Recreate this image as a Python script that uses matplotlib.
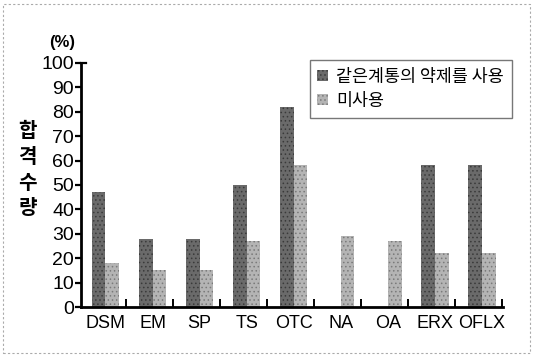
import numpy as np
import matplotlib
matplotlib.use('Agg')
import matplotlib.pyplot as plt
from matplotlib.patches import Rectangle, Patch

plt.rcParams['font.family'] = ['Liberation Sans', 'Noto Sans CJK KR', 'DejaVu Sans']
plt.rcParams['hatch.linewidth'] = 0.6

# data
categories = ['DSM', 'EM', 'SP', 'TS', 'OTC', 'NA', 'OA', 'ERX', 'OFLX']
same_class = [47, 28, 28, 50, 82, 0, 0, 58, 58]   # 같은계통의 약제를 사용
not_used = [18, 15, 15, 27, 58, 29, 27, 22, 22]    # 미사용
yticks = list(range(0, 101, 10))

fig = plt.figure(figsize=(5.33, 3.55), dpi=100)
ax = fig.add_axes([0.152, 0.135, 0.792, 0.688])

x = np.arange(len(categories))
w = 0.29
ax.bar(x - w / 2, same_class, w, color='#6a6a6a', edgecolor='#3a3a3a',
       hatch='....', linewidth=0)
ax.bar(x + w / 2, not_used, w, color='#b4b4b4', edgecolor='#7a7a7a',
       hatch='....', linewidth=0)

ax.set_xlim(-0.52, 8.45)
ax.set_ylim(0, 100)

for s in ['top', 'right']:
    ax.spines[s].set_visible(False)
ax.spines['left'].set_linewidth(2)
ax.spines['bottom'].set_linewidth(2)

ax.set_yticks(yticks)
ax.set_yticklabels([str(v) for v in yticks], fontsize=14)
ax.tick_params(axis='y', direction='out', length=4, width=1.6, pad=1)

# category labels, with small group dividers sitting on the axis
ax.set_xticks(x)
ax.set_xticklabels(categories, fontsize=13)
ax.tick_params(axis='x', length=0, pad=6)
ax.set_xticks(x + 0.43, minor=True)
ax.tick_params(axis='x', which='minor', direction='in', length=6, width=1.4)

# little hook at the top of the y axis
ax.plot([0, 0.012], [100, 100], transform=ax.get_yaxis_transform(),
        color='black', lw=1.6, clip_on=False)

fig.text(0.116, 0.879, '(%)', fontsize=12, fontweight='bold', ha='center', va='center')
for i, ch in enumerate('합격수량'):
    fig.text(0.052, 0.631 - i * 0.072, ch, fontsize=14.5, fontweight='bold',
             ha='center', va='center', family=['Noto Sans CJK KR'])

handles = [Patch(facecolor='#6a6a6a', edgecolor='#3a3a3a', hatch='....', linewidth=0),
           Patch(facecolor='#b4b4b4', edgecolor='#7a7a7a', hatch='....', linewidth=0)]
leg = ax.legend(handles, ['같은계통의 약제를 사용', '미사용'], loc='upper right',
                bbox_to_anchor=(1.021, 1.012), borderaxespad=0, frameon=True,
                fancybox=False, edgecolor='#555555', handlelength=0.6,
                handleheight=0.6, handletextpad=0.5, borderpad=0.45,
                labelspacing=0.35,
                prop={'family': ['Noto Sans CJK KR'], 'size': 12.5, 'weight': 'medium'})
leg.get_frame().set_linewidth(1.0)

# scanned page border
fig.patches.append(Rectangle((0.006, 0.006), 0.988, 0.982, transform=fig.transFigure,
                             fill=False, edgecolor='#aaaaaa', linestyle=(0, (2, 2)), lw=0.8))

fig.savefig('out.png', dpi=100)
